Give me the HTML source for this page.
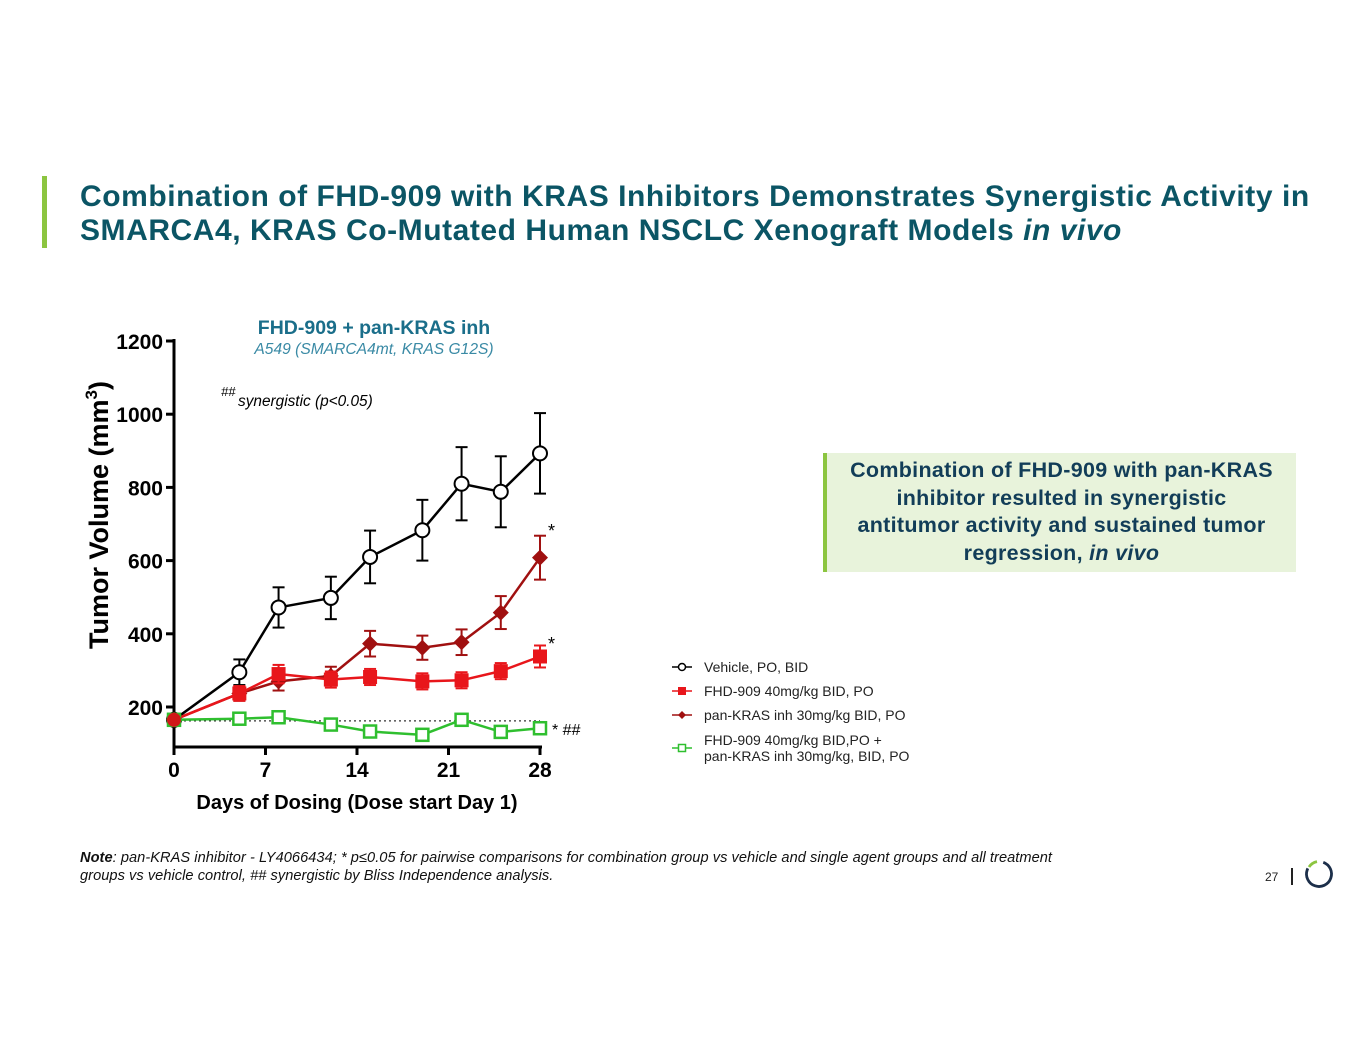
<!DOCTYPE html>
<html><head><meta charset="utf-8"><style>
body{margin:0;width:1365px;height:1055px;background:#fff;font-family:"Liberation Sans",sans-serif;position:relative;overflow:hidden}
.title{position:absolute;left:80px;top:180px;font-size:30px;letter-spacing:0.55px;font-weight:bold;color:#0b5565;line-height:34px;white-space:nowrap}
.bar{position:absolute;left:42px;top:176px;width:5px;height:72px;background:#8cc540}
.box{position:absolute;left:823px;top:453px;width:473px;height:119px;background:#e8f3db;border-left:4px solid #8cc540;box-sizing:border-box;text-align:center;color:#123d58;font-weight:bold;font-size:21.5px;letter-spacing:0.3px;line-height:27.5px;padding-top:4px;white-space:nowrap}
.note{position:absolute;left:80px;top:849px;font-size:14.6px;letter-spacing:0.05px;font-style:italic;color:#111;line-height:18px;white-space:nowrap}
</style></head><body>
<div class="bar"></div>
<div class="title">Combination of FHD-909 with KRAS Inhibitors Demonstrates Synergistic Activity in<br>SMARCA4, KRAS Co-Mutated Human NSCLC Xenograft Models <i>in vivo</i></div>
<div class="box">Combination of FHD-909 with pan-KRAS<br>inhibitor resulted in synergistic<br>antitumor activity and sustained tumor<br>regression, <i>in vivo</i></div>
<div class="note"><b>Note</b>: pan-KRAS inhibitor - LY4066434; * p≤0.05 for pairwise comparisons for combination group vs vehicle and single agent groups and all treatment<br>groups vs vehicle control, ## synergistic by Bliss Independence analysis.</div>
<div style="position:absolute;left:1265px;top:870px;font-size:12px;color:#222">27</div>
<div style="position:absolute;left:1291px;top:868px;width:1.5px;height:17px;background:#222"></div>
<svg style="position:absolute;left:1303px;top:858px" width="32" height="32" viewBox="0 0 32 32">
<circle cx="16" cy="16" r="12.5" fill="none" stroke="#1c2f4a" stroke-width="2.8" stroke-dasharray="60 100" transform="rotate(-70 16 16)"/>
<path d="M6 9 A12.5 12.5 0 0 1 14 3.6" fill="none" stroke="#8cc540" stroke-width="2.8"/>
</svg>
<svg id="chart" style="position:absolute;left:0;top:0" width="1365" height="1055"></svg>
<script>
const days=[0,5,8,12,15,19,22,25,28];
const vehicle=[165,295,472,498,610,683,810,788,893];
const vehicleErr=[0,35,55,58,72,83,100,97,110];
const fhd=[165,237,290,275,282,270,273,298,338];
const fhdErr=[0,20,25,22,22,22,22,22,30];
const kras=[165,237,270,285,373,362,377,458,608];
const krasErr=[0,20,25,25,35,33,35,45,60];
const combo=[165,168,172,152,133,124,165,132,142];
const comboErr=[0,5,5,5,5,5,5,5,5];
const yTicks=[200,400,600,800,1000,1200];
const xTicks=[0,7,14,21,28];
const NS="http://www.w3.org/2000/svg";
const svg=document.getElementById('chart');
const X=d=>174+d*(366/28);
const Y=v=>707-(v-200)*(366/1000);
function el(t,a,p){const e=document.createElementNS(NS,t);for(const k in a)e.setAttribute(k,a[k]);(p||svg).appendChild(e);return e;}
function txt(s,a){const e=el('text',a);e.textContent=s;return e;}
let ax=el('line',{x1:174,y1:339,x2:174,y2:747,stroke:'#000','stroke-width':3});

let ax2=el('line',{x1:172.5,y1:747,x2:542,y2:747,stroke:'#000','stroke-width':3});

yTicks.forEach(v=>{el('line',{x1:166,y1:Y(v),x2:174,y2:Y(v),stroke:'#000','stroke-width':3});
const t=txt(v,{x:163,y:Y(v)+8,'text-anchor':'end','font-size':21,'font-weight':'bold'});
});
xTicks.forEach(d=>{el('line',{x1:X(d),y1:747,x2:X(d),y2:755,stroke:'#000','stroke-width':3});
const t=txt(d,{x:X(d),y:777,'text-anchor':'middle','font-size':21,'font-weight':'bold'});
});
let yt=txt('Tumor Volume (mm',{transform:'translate(108,515) rotate(-90)','text-anchor':'middle','font-size':27,'font-weight':'bold'});
const sup=el('tspan',{dy:-11,'font-size':17},yt);sup.textContent='3';const cl=el('tspan',{dy:11},yt);cl.textContent=')';

let xt=txt('Days of Dosing (Dose start Day 1)',{x:357,y:809,'text-anchor':'middle','font-size':20,'font-weight':'bold'});

let ct=txt('FHD-909 + pan-KRAS inh',{x:374,y:334,'text-anchor':'middle','font-size':19.5,'font-weight':'bold',fill:'#1a6e8a'});

let cs=txt('A549 (SMARCA4mt, KRAS G12S)',{x:374,y:354,'text-anchor':'middle','font-size':15.6,'font-style':'italic',fill:'#3a8aa5'});

let sn=txt('##',{x:221,y:396,'font-size':13,'font-style':'italic'});

txt('synergistic (p<0.05)',{x:238,y:406,'font-size':15.4,'font-style':'italic'});
let dl=el('line',{x1:174,y1:Y(162),x2:540,y2:Y(162),stroke:'#333','stroke-width':1.2,'stroke-dasharray':'2 3'});

function series(vals,errs,color,name,marker){
 const g=el('g',{});
 days.forEach((d,i)=>{if(errs[i]>0){const x=X(d),y1=Y(vals[i]+errs[i]),y2=Y(vals[i]-errs[i]);
  el('line',{x1:x,y1:y1,x2:x,y2:y2,stroke:color,'stroke-width':2},g);
  el('line',{x1:x-6,y1:y1,x2:x+6,y2:y1,stroke:color,'stroke-width':2},g);
  el('line',{x1:x-6,y1:y2,x2:x+6,y2:y2,stroke:color,'stroke-width':2},g);}});
 el('polyline',{points:days.map((d,i)=>X(d)+','+Y(vals[i])).join(' '),fill:'none',stroke:color,'stroke-width':2.5},g);
 days.forEach((d,i)=>{const x=X(d),y=Y(vals[i]);let m;
  if(marker==='circle')m=el('circle',{cx:x,cy:y,r:7,fill:'#fff',stroke:color,'stroke-width':2},g);
  else if(marker==='square')m=el('rect',{x:x-7,y:y-7,width:14,height:14,fill:color},g);
  else if(marker==='diamond')m=el('path',{d:`M${x} ${y-8}L${x+8} ${y}L${x} ${y+8}L${x-8} ${y}Z`,fill:color},g);
  else m=el('rect',{x:x-6,y:y-6,width:12,height:12,fill:'#fff',stroke:color,'stroke-width':2.5},g);
  });
}
series(vehicle,vehicleErr,'#000','vehicle-series','circle');
series(kras,krasErr,'#a01010','pan-kras-series','diamond');
series(fhd,fhdErr,'#e8161b','fhd909-series','square');
series(combo,comboErr,'#2fbf2f','combination-series','osquare');
el('circle',{cx:X(0),cy:Y(165),r:7,fill:'#d01818'});
txt('*',{x:548,y:537,'font-size':18});txt('*',{x:548,y:650,'font-size':18});
txt('* ##',{x:552,y:735,'font-size':16});
const leg=[['Vehicle, PO, BID','#000','circle'],['FHD-909 40mg/kg BID, PO','#e8161b','square'],['pan-KRAS inh 30mg/kg BID, PO','#a01010','diamond']];
leg.forEach((l,i)=>{const y=667+i*24;const g=el('g',{});
 el('line',{x1:672,y1:y,x2:692,y2:y,stroke:l[1],'stroke-width':1.5},g);
 if(l[2]==='circle')el('circle',{cx:682,cy:y,r:3.5,fill:'#fff',stroke:l[1],'stroke-width':1.5},g);
 else if(l[2]==='square')el('rect',{x:678,y:y-4,width:8,height:8,fill:l[1]},g);
 else el('path',{d:`M682 ${y-4}L686 ${y}L682 ${y+4}L678 ${y}Z`,fill:l[1]},g);
 const t=el('text',{x:704,y:y+5,'font-size':14,fill:'#222'},g);t.textContent=l[0];});
const g4=el('g',{});
el('line',{x1:672,y1:748,x2:692,y2:748,stroke:'#2fbf2f','stroke-width':1.5},g4);
el('rect',{x:678.5,y:744.5,width:7,height:7,fill:'#fff',stroke:'#2fbf2f','stroke-width':1.5},g4);
let t4=el('text',{x:704,y:745,'font-size':14,fill:'#222'},g4);t4.textContent='FHD-909 40mg/kg BID,PO +';
let t5=el('text',{x:704,y:761,'font-size':14,fill:'#222'},g4);t5.textContent='pan-KRAS inh 30mg/kg, BID, PO';
</script>
</body></html>
